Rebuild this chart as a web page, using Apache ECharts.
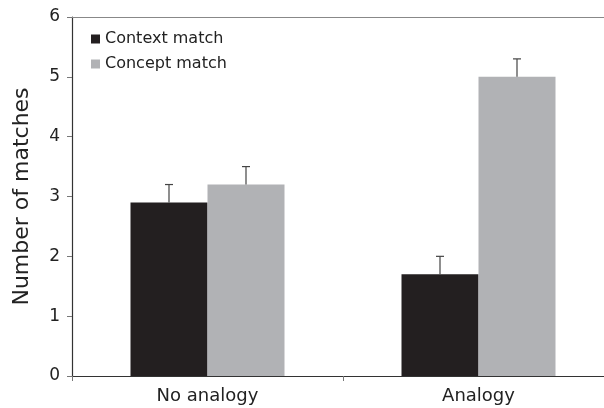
<!DOCTYPE html>
<html><head><meta charset="utf-8">
<script src="https://cdn.jsdelivr.net/npm/echarts@6/dist/echarts.min.js"></script>
<style>html,body{margin:0;padding:0;background:#fff}#c{width:604px;height:408px}</style>
</head><body><div id="c"></div>
<script>
const categories = ['No analogy', 'Analogy'];
const contextMatch = [2.9, 1.7];
const contextErr = [0.3, 0.3];
const conceptMatch = [3.2, 5.0];
const conceptErr = [0.3, 0.3];
const yTicks = [0, 1, 2, 3, 4, 5, 6];

const chart = echarts.init(document.getElementById('c'));
const font = 'DejaVu Sans';

function errSeries(name, vals, errs, offsetIdx) {
  return {
    type: 'custom', name: name + ' err', z: 5,
    data: vals.map((v, i) => [i, v, v + errs[i]]),
    renderItem: function (params, api) {
      const i = api.value(0);
      const p0 = api.coord([i, api.value(1)]);
      const p1 = api.coord([i, api.value(2)]);
      const barW = 77;
      const x = p0[0] + (offsetIdx === 0 ? -barW / 2 : barW / 2);
      const cap = 4;
      return { type: 'group', children: [
        { type: 'line', shape: { x1: x, y1: p0[1], x2: x, y2: p1[1] }, style: { stroke: '#444', lineWidth: 1.2 } },
        { type: 'line', shape: { x1: x - cap, y1: p1[1], x2: x + cap, y2: p1[1] }, style: { stroke: '#444', lineWidth: 1.2 } }
      ]};
    }
  };
}

chart.setOption({
  animation: false,
  textStyle: { fontFamily: font },
  grid: { left: 72, top: 17, width: 542, bottom: 32, outerBoundsMode: 'none', containLabel: false },
  legend: {
    orient: 'vertical', left: 86, top: 26, itemGap: 9,
    itemWidth: 9, itemHeight: 9, icon: 'rect',
    textStyle: { fontFamily: font, fontSize: 16, color: '#222' },
    data: ['Context match', 'Concept match']
  },
  xAxis: [{
    type: 'category', data: categories,
    axisLine: { lineStyle: { color: '#333', width: 1.2 } },
    axisTick: { show: true, alignWithLabel: false, length: 5, lineStyle: { color: '#777' } },
    axisLabel: { fontSize: 18, color: '#222', margin: 11, fontFamily: font }
  }, {
    type: 'category', data: categories, position: 'top',
    axisLine: { show: true, lineStyle: { color: '#888', width: 1.2 } },
    axisTick: { show: false }, axisLabel: { show: false }
  }],
  yAxis: {
    type: 'value', min: yTicks[0], max: yTicks[yTicks.length - 1], interval: 1,
    name: 'Number of matches', nameLocation: 'middle', nameGap: 39,
    nameTextStyle: { fontSize: 22, color: '#222', fontFamily: font },
    axisLine: { show: true, lineStyle: { color: '#333', width: 1.2 } },
    axisTick: { show: true, length: 5, lineStyle: { color: '#777' } },
    axisLabel: { fontSize: 17, color: '#222', margin: 12, fontFamily: font },
    splitLine: { show: false }
  },
  series: [
    { name: 'Context match', type: 'bar', data: contextMatch, barWidth: 77, barGap: '0%',
      itemStyle: { color: '#231f20' } },
    { name: 'Concept match', type: 'bar', data: conceptMatch, barWidth: 77, barGap: '0%',
      itemStyle: { color: '#b1b2b5' } },
    errSeries('Context match', contextMatch, contextErr, 0),
    errSeries('Concept match', conceptMatch, conceptErr, 1)
  ]
});
</script></body></html>
